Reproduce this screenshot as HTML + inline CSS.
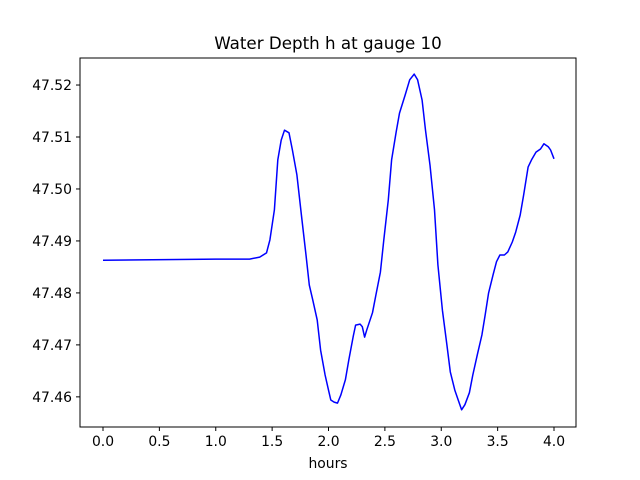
<!DOCTYPE html>
<html><head><meta charset="utf-8"><style>
body{margin:0;background:#fff;}
svg{display:block;font-family:"DejaVu Sans","Liberation Sans",sans-serif;}
</style></head><body>
<svg id="chart" width="640" height="480" viewBox="0 0 640 480">
<rect x="0" y="0" width="640" height="480" fill="#fff"/>
<text x="328" y="49" font-size="16.7" text-anchor="middle">Water Depth h at gauge 10</text>
<g id="xt"></g>
<g id="yt"></g>
<path id="line" fill="none" stroke="#0000ff" stroke-width="1.5" stroke-linejoin="round"/>
<rect x="80" y="58" width="496" height="369" fill="none" stroke="#000" stroke-width="1"/>
<text x="328" y="468" font-size="13.9" text-anchor="middle">hours</text>
</svg>
<script>
const hours=[0,1.0,1.3,1.39,1.45,1.48,1.52,1.55,1.58,1.61,1.65,1.68,1.72,1.76,1.80,1.83,1.86,1.90,1.93,1.97,2.00,2.02,2.05,2.08,2.11,2.15,2.18,2.22,2.24,2.28,2.30,2.32,2.34,2.39,2.42,2.46,2.49,2.53,2.56,2.60,2.63,2.68,2.72,2.76,2.79,2.83,2.86,2.90,2.94,2.97,3.01,3.05,3.08,3.12,3.15,3.18,3.21,3.25,3.28,3.32,3.36,3.39,3.42,3.46,3.49,3.52,3.56,3.59,3.63,3.66,3.70,3.73,3.77,3.80,3.84,3.88,3.91,3.95,3.97,4.0];
const depth=[47.4863,47.4865,47.4865,47.4869,47.4877,47.4902,47.4960,47.5056,47.5094,47.5113,47.5108,47.5075,47.5027,47.4950,47.4873,47.4815,47.4787,47.4748,47.4690,47.4642,47.4613,47.4594,47.4590,47.4588,47.4604,47.4633,47.4671,47.4717,47.4738,47.4740,47.4735,47.4715,47.4729,47.4762,47.4796,47.4840,47.4902,47.4979,47.5056,47.5110,47.5146,47.5181,47.5210,47.5221,47.5210,47.5171,47.5113,47.5046,47.4960,47.4854,47.4767,47.4700,47.4648,47.4613,47.4594,47.4575,47.4585,47.4608,47.4642,47.4681,47.4719,47.4758,47.4800,47.4835,47.4860,47.4873,47.4873,47.4879,47.4898,47.4917,47.4950,47.4988,47.5042,47.5056,47.5071,47.5077,47.5087,47.5081,47.5075,47.5058];
const xTicks=[0,0.5,1.0,1.5,2.0,2.5,3.0,3.5,4.0];
const yTicks=[47.46,47.47,47.48,47.49,47.50,47.51,47.52];
const X0=80,X1=576,Y0=58,Y1=427,xmin=-0.204,xmax=4.195,ymin=47.4542,ymax=47.5252;
function sx(v){return X0+(v-xmin)/(xmax-xmin)*(X1-X0);}
function sy(v){return Y1-(v-ymin)/(ymax-ymin)*(Y1-Y0);}
const NS="http://www.w3.org/2000/svg";
const xt=document.getElementById('xt'),yt=document.getElementById('yt');
xTicks.forEach(t=>{
 const l=document.createElementNS(NS,'line');
 
 
 l.setAttribute('x1',sx(t));l.setAttribute('x2',sx(t));l.setAttribute('y1',Y1);l.setAttribute('y2',Y1+4);l.setAttribute('stroke','#000');
 xt.appendChild(l);
 const s=document.createElementNS(NS,'text');
 
 
 s.setAttribute('x',sx(t));s.setAttribute('y',Y1+19);s.setAttribute('font-size','13.9');s.setAttribute('text-anchor','middle');
 s.textContent=t.toFixed(1);xt.appendChild(s);
});
yTicks.forEach(t=>{
 const l=document.createElementNS(NS,'line');
 
 
 l.setAttribute('x1',X0-4);l.setAttribute('x2',X0);l.setAttribute('y1',sy(t));l.setAttribute('y2',sy(t));l.setAttribute('stroke','#000');
 yt.appendChild(l);
 const s=document.createElementNS(NS,'text');
 
 
 s.setAttribute('x',X0-8);s.setAttribute('y',sy(t)+5);s.setAttribute('font-size','13.9');s.setAttribute('text-anchor','end');
 s.textContent=t.toFixed(2);yt.appendChild(s);
});
document.getElementById('line').setAttribute('d',hours.map((h,i)=>(i?'L':'M')+sx(h).toFixed(1)+' '+sy(depth[i]).toFixed(1)).join(' '));
</script>
</body></html>
